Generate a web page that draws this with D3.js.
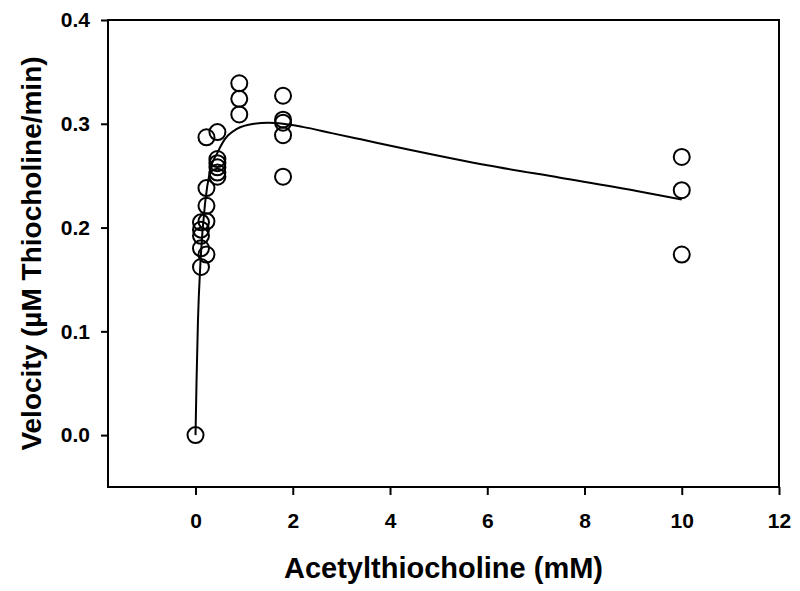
<!DOCTYPE html>
<html>
<head>
<meta charset="utf-8">
<script src="https://cdn.jsdelivr.net/npm/d3@7"></script>
<style>
  body { margin: 0; background: #fff; }
  text { font-family: "Liberation Sans", Arial, sans-serif; font-weight: bold; }
</style>
</head>
<body>
<div id="chart"></div>
<script>
// observed velocities, grouped by substrate concentration (mM)
var substrate = [0, 0.1125, 0.225, 0.45, 0.9, 1.8, 10];
var velocities = [
  [0.0],
  [0.205, 0.198, 0.192, 0.180, 0.162],
  [0.287, 0.238, 0.221, 0.206, 0.174],
  [0.292, 0.266, 0.262, 0.258, 0.253, 0.249],
  [0.339, 0.324, 0.309],
  [0.327, 0.304, 0.301, 0.289, 0.249],
  [0.268, 0.236, 0.174]
];

// fitted curve
var fitX = [0, 0.02, 0.05, 0.1, 0.2, 0.3, 0.45, 0.6, 0.85, 1.2, 1.5, 1.8, 2.2, 2.8, 3.4, 4.4, 6.0, 7.5, 9.1, 10];
var fitY = [0, 0.05, 0.11, 0.165, 0.225, 0.255, 0.272, 0.285, 0.295, 0.300, 0.301, 0.300, 0.297, 0.291, 0.285, 0.275, 0.260, 0.248, 0.235, 0.227];

var xTicks = [0, 2, 4, 6, 8, 10, 12];
var yTicks = [0.0, 0.1, 0.2, 0.3, 0.4];

// set the dimensions and margins of the graph
var margin = {top: 20, right: 21, bottom: 104, left: 108},
    width = 800 - margin.left - margin.right,
    height = 591 - margin.top - margin.bottom;

var svg = d3.select("#chart")
  .append("svg")
    .attr("width", 800)
    .attr("height", 591)
  .append("g")
    .attr("transform", "translate(" + margin.left + "," + margin.top + ")");

var x = d3.scaleLinear().domain([-1.8, 12]).range([0, width]);
var y = d3.scaleLinear().domain([-0.05, 0.4]).range([height, 0]);

// frame
svg.append("rect")
  .attr("x", 0).attr("y", 0)
  .attr("width", width).attr("height", height)
  .attr("fill", "none")
  .attr("stroke", "#000")
  .attr("stroke-width", 2);

// X axis
var xAxis = svg.append("g")
  .attr("transform", "translate(0," + height + ")")
  .call(d3.axisBottom(x).tickValues(xTicks).tickFormat(d3.format("d")).tickSize(8).tickPadding(18));
xAxis.select(".domain").remove();
xAxis.selectAll("line").attr("stroke-width", 2);
xAxis.selectAll("text").style("font-size", "21px").attr("fill", "#000");

// Y axis
var yAxis = svg.append("g")
  .call(d3.axisLeft(y).tickValues(yTicks).tickFormat(d3.format(".1f")).tickSize(7).tickPadding(11));
yAxis.select(".domain").remove();
yAxis.selectAll("line").attr("stroke-width", 2);
yAxis.selectAll("text").style("font-size", "21px").attr("fill", "#000");

// fitted line
var fit = fitX.map(function(d, i) { return [d, fitY[i]]; });
svg.append("path")
  .datum(fit)
  .attr("fill", "none")
  .attr("stroke", "#000")
  .attr("stroke-width", 2)
  .attr("d", d3.line()
    .x(function(d) { return x(d[0]); })
    .y(function(d) { return y(d[1]); })
    .curve(d3.curveMonotoneX));

// points
var points = [];
substrate.forEach(function(s, i) {
  velocities[i].forEach(function(v) { points.push({s: s, v: v}); });
});

svg.append("g")
  .selectAll("circle")
  .data(points)
  .enter()
  .append("circle")
    .attr("cx", function(d) { return x(d.s); })
    .attr("cy", function(d) { return y(d.v); })
    .attr("r", 8)
    .attr("fill", "none")
    .attr("stroke", "#000")
    .attr("stroke-width", 2);

// axis labels
svg.append("text")
  .attr("text-anchor", "middle")
  .attr("x", width / 2)
  .attr("y", height + 91)
  .style("font-size", "29px")
  .text("Acetylthiocholine (mM)");

svg.append("text")
  .attr("text-anchor", "middle")
  .attr("transform", "translate(" + (-67) + "," + (height / 2) + ") rotate(-90)")
  .style("font-size", "28px")
  .text("Velocity (\u00b5M Thiocholine/min)");
</script>
</body>
</html>
